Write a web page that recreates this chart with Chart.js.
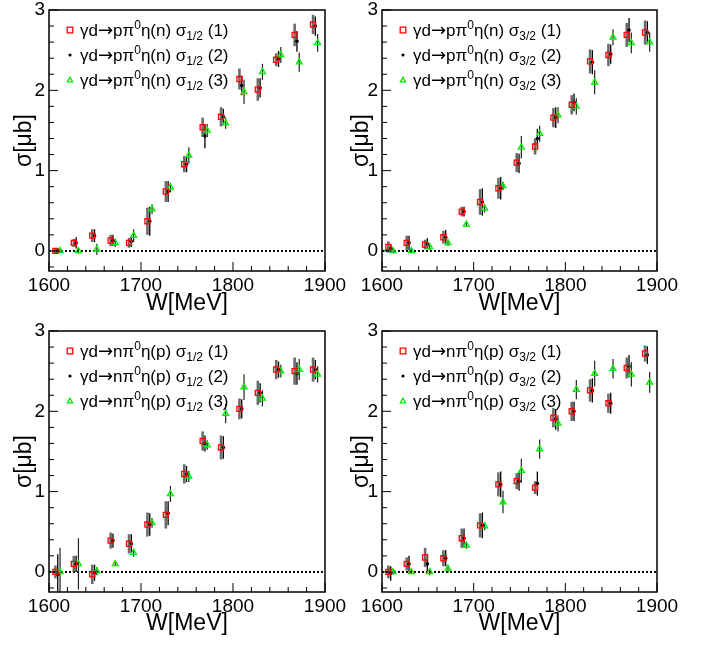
<!DOCTYPE html>
<html>
<head>
<meta charset="utf-8">
<script src="https://cdn.jsdelivr.net/npm/chart.js@4.4.1/dist/chart.umd.min.js"></script>
<style>
body { margin: 0; background: #fff; }
#wrap { position: relative; width: 703px; height: 645px; }
canvas { position: absolute; }
</style>
</head>
<body>
<div id="wrap">
  <canvas id="c1" width="360" height="322" style="left:0px;top:0px"></canvas>
  <canvas id="c2" width="363" height="322" style="left:340px;top:0px"></canvas>
  <canvas id="c3" width="360" height="322" style="left:0px;top:320px"></canvas>
  <canvas id="c4" width="363" height="322" style="left:340px;top:320px"></canvas>
</div>
<script>
const W = [1610, 1630, 1650, 1670, 1690, 1710, 1730, 1750, 1770, 1790, 1810, 1830, 1850, 1870, 1890];
const xTicks = [1600, 1700, 1800, 1900];
const yTicks = [0, 1, 2, 3];

// γd -> p π0 η (n), sigma 1/2
const pHalf1 = [0.00, 0.10, 0.19, 0.13, 0.10, 0.37, 0.74, 1.08, 1.54, 1.67, 2.14, 2.01, 2.38, 2.69, 2.82];
const pHalf1Err = [0.03, 0.05, 0.08, 0.07, 0.06, 0.17, 0.13, 0.10, 0.12, 0.12, 0.13, 0.14, 0.08, 0.14, 0.12];
const pHalf2 = [0.00, 0.10, 0.19, 0.13, 0.12, 0.37, 0.74, 1.08, 1.43, 1.67, 2.06, 2.03, 2.39, 2.61, 2.80];
const pHalf2Err = [0.03, 0.07, 0.08, 0.07, 0.07, 0.18, 0.13, 0.10, 0.15, 0.10, 0.12, 0.12, 0.10, 0.13, 0.12];
const pHalf3 = [0.00, 0.00, 0.02, 0.10, 0.19, 0.52, 0.79, 1.19, 1.50, 1.59, 1.98, 2.23, 2.44, 2.35, 2.59];
const pHalf3Err = [0.02, 0.03, 0.07, 0.05, 0.08, 0.06, 0.06, 0.10, 0.08, 0.07, 0.15, 0.10, 0.10, 0.12, 0.11];

// γd -> p π0 η (n), sigma 3/2
const pThree1 = [0.05, 0.10, 0.08, 0.17, 0.49, 0.61, 0.78, 1.10, 1.30, 1.66, 1.82, 2.36, 2.44, 2.69, 2.72];
const pThree1Err = [0.07, 0.09, 0.06, 0.08, 0.06, 0.16, 0.13, 0.12, 0.10, 0.12, 0.12, 0.15, 0.14, 0.15, 0.15];
const pThree2 = [0.03, 0.10, 0.09, 0.17, 0.49, 0.61, 0.78, 1.09, 1.40, 1.66, 1.85, 2.35, 2.45, 2.75, 2.72];
const pThree2Err = [0.05, 0.09, 0.07, 0.09, 0.06, 0.17, 0.14, 0.12, 0.12, 0.13, 0.11, 0.15, 0.12, 0.15, 0.14];
const pThree3 = [0.00, 0.00, 0.05, 0.10, 0.33, 0.53, 0.81, 1.29, 1.46, 1.69, 1.80, 2.10, 2.66, 2.59, 2.60];
const pThree3Err = [0.03, 0.03, 0.04, 0.04, 0.03, 0.05, 0.05, 0.14, 0.10, 0.10, 0.10, 0.15, 0.10, 0.13, 0.12];

// γd -> n π0 η (p), sigma 1/2
const nHalf1 = [0.00, 0.10, -0.03, 0.39, 0.35, 0.59, 0.71, 1.22, 1.63, 1.55, 2.03, 2.23, 2.52, 2.50, 2.52];
const nHalf1Err = [0.08, 0.10, 0.12, 0.10, 0.12, 0.15, 0.17, 0.12, 0.12, 0.15, 0.13, 0.15, 0.12, 0.17, 0.15];
const nHalf2 = [-0.03, 0.10, -0.01, 0.39, 0.35, 0.59, 0.73, 1.22, 1.60, 1.55, 2.03, 2.23, 2.52, 2.47, 2.52];
const nHalf2Err = [0.25, 0.10, 0.10, 0.09, 0.12, 0.14, 0.15, 0.10, 0.10, 0.14, 0.12, 0.12, 0.10, 0.14, 0.12];
const nHalf3 = [0.00, 0.10, 0.01, 0.10, 0.24, 0.61, 0.97, 1.19, 1.58, 1.97, 2.30, 2.16, 2.50, 2.52, 2.46];
const nHalf3Err = [0.30, 0.32, 0.05, 0.03, 0.05, 0.06, 0.10, 0.07, 0.06, 0.12, 0.16, 0.10, 0.08, 0.13, 0.10];

// γd -> n π0 η (p), sigma 3/2
const nThree1 = [0.00, 0.10, 0.18, 0.17, 0.42, 0.58, 1.09, 1.13, 1.05, 1.92, 2.00, 2.26, 2.10, 2.54, 2.72];
const nThree1Err = [0.08, 0.08, 0.12, 0.10, 0.12, 0.15, 0.15, 0.10, 0.08, 0.12, 0.12, 0.14, 0.12, 0.13, 0.10];
const nThree2 = [-0.02, 0.10, 0.10, 0.17, 0.42, 0.58, 1.09, 1.13, 1.10, 1.90, 2.00, 2.26, 2.10, 2.56, 2.70];
const nThree2Err = [0.09, 0.10, 0.12, 0.10, 0.12, 0.16, 0.16, 0.12, 0.15, 0.13, 0.12, 0.15, 0.13, 0.14, 0.11];
const nThree3 = [0.00, 0.00, 0.00, 0.04, 0.33, 0.57, 0.87, 1.26, 1.53, 1.85, 2.27, 2.47, 2.53, 2.46, 2.36];
const nThree3Err = [0.03, 0.03, 0.04, 0.05, 0.04, 0.05, 0.14, 0.15, 0.12, 0.10, 0.12, 0.16, 0.12, 0.15, 0.13];

const runLabels = ["(1)", "(2)", "(3)"];

const FONT = "'Liberation Sans', Arial, Helvetica, sans-serif";
const ARROW_FONT = "'DejaVu Sans', sans-serif";
Chart.defaults.font.family = FONT;

// marker look for run (1), (2), (3)
const looks = [
  { pointStyle: "rect", pointRadius: 3.6, borderColor: "#ff0000", backgroundColor: "rgba(0,0,0,0)", borderWidth: 1.3,
    errColor: "rgba(70,70,70,0.8)", errWidth: 2.6, shift: -3 },
  { pointStyle: "circle", pointRadius: 1.8, borderColor: "#000", backgroundColor: "#000", borderWidth: 0,
    errColor: "#000", errWidth: 1.3, shift: -0.5 },
  { pointStyle: "triangle", pointRadius: 3.4, borderColor: "#00ee00", backgroundColor: "rgba(0,0,0,0)", borderWidth: 1.3,
    errColor: "#222", errWidth: 1.2, shift: 2 }
];

const panels = [
  { id: "c1", nucleon: "p", spectator: "η(n)", spin: "1/2", area: { l: 49, t: 10, r: 325, b: 271 },
    titlePad: 11, series: [[pHalf1, pHalf1Err], [pHalf2, pHalf2Err], [pHalf3, pHalf3Err]] },
  { id: "c2", nucleon: "p", spectator: "η(n)", spin: "3/2", area: { l: 42, t: 10, r: 317, b: 271 },
    titlePad: 8, series: [[pThree1, pThree1Err], [pThree2, pThree2Err], [pThree3, pThree3Err]] },
  { id: "c3", nucleon: "n", spectator: "η(p)", spin: "1/2", area: { l: 49, t: 11, r: 325, b: 272 },
    titlePad: 11, series: [[nHalf1, nHalf1Err], [nHalf2, nHalf2Err], [nHalf3, nHalf3Err]] },
  { id: "c4", nucleon: "n", spectator: "η(p)", spin: "3/2", area: { l: 42, t: 11, r: 317, b: 272 },
    titlePad: 8, series: [[nThree1, nThree1Err], [nThree2, nThree2Err], [nThree3, nThree3Err]] }
];

function drawMarker(ctx, look, x, y, r) {
  ctx.save();
  ctx.strokeStyle = look.borderColor;
  ctx.fillStyle = look.backgroundColor;
  ctx.lineWidth = look.borderWidth || 1;
  ctx.beginPath();
  if (look.pointStyle === "rect") {
    ctx.rect(x - r, y - r, 2 * r, 2 * r);
    ctx.stroke();
  } else if (look.pointStyle === "circle") {
    ctx.arc(x, y, 1.6, 0, Math.PI * 2);
    ctx.fill();
  } else {
    ctx.moveTo(x, y - r);
    ctx.lineTo(x + r * 0.95, y + r * 0.7);
    ctx.lineTo(x - r * 0.95, y + r * 0.7);
    ctx.closePath();
    ctx.stroke();
  }
  ctx.restore();
}

function drawRich(ctx, parts, x, y) {
  parts.forEach(([text, kind]) => {
    let size = 17, fam = FONT, dy = 0;
    if (kind === "sup") { size = 12; dy = -7; }
    if (kind === "sub") { size = 12; dy = 4; }
    if (kind === "arrow") { size = 18; fam = ARROW_FONT; }
    ctx.font = size + "px " + fam;
    ctx.fillText(text, x, y + dy);
    x += ctx.measureText(text).width;
  });
}

const rootLook = {
  id: "rootLook",
  beforeDatasetsDraw(chart) {
    const { ctx, chartArea: a, scales: { x, y } } = chart;
    // dotted zero line
    const y0 = y.getPixelForValue(0);
    ctx.save();
    ctx.strokeStyle = "#000";
    ctx.lineWidth = 2;
    ctx.setLineDash([2, 2]);
    ctx.beginPath();
    ctx.moveTo(a.left, y0);
    ctx.lineTo(a.right, y0);
    ctx.stroke();
    ctx.restore();
    // error bars, all before the markers
    ctx.save();
    ctx.beginPath();
    ctx.rect(a.left, a.top, a.right - a.left, a.bottom - a.top);
    ctx.clip();
    chart.data.datasets.forEach(ds => {
      ctx.strokeStyle = ds.errColor;
      ctx.lineWidth = ds.errWidth;
      ds.data.forEach((p, i) => {
        const px = x.getPixelForValue(p.x);
        ctx.beginPath();
        ctx.moveTo(px, y.getPixelForValue(p.y - ds.errors[i]));
        ctx.lineTo(px, y.getPixelForValue(p.y + ds.errors[i]));
        ctx.stroke();
      });
    });
    ctx.restore();
  },
  afterDraw(chart) {
    const { ctx, chartArea: a, scales: { x, y } } = chart;
    const panel = chart.options.plugins.rootLook.panel;
    ctx.save();
    ctx.strokeStyle = "#000";
    ctx.lineWidth = 1.5;
    ctx.strokeRect(a.left, a.top, a.right - a.left, a.bottom - a.top);
    ctx.lineWidth = 1;
    ctx.beginPath();
    for (let v = 1600; v <= 1900; v += 20) {
      const px = x.getPixelForValue(v);
      ctx.moveTo(px, a.bottom);
      ctx.lineTo(px, a.bottom - (v % 100 === 0 ? 9 : 5));
    }
    for (let k = -1; k <= 15; k++) {
      const py = y.getPixelForValue(k * 0.2);
      ctx.moveTo(a.left, py);
      ctx.lineTo(a.left + (k % 5 === 0 ? 9 : 5), py);
    }
    ctx.stroke();

    // legend
    ctx.fillStyle = "#000";
    ctx.textBaseline = "alphabetic";
    looks.forEach((look, i) => {
      const ry = a.top + 20 + i * 25;
      drawMarker(ctx, look, a.left + 21, ry, 2.8);
      drawRich(ctx, [
        ["γd", null], ["→", "arrow"], [panel.nucleon + "π", null], ["0", "sup"],
        [panel.spectator + " σ", null], [panel.spin, "sub"],
        [" " + runLabels[i], null]
      ], a.left + 31, ry + 6);
    });
    ctx.restore();
  }
};

panels.forEach(panel => {
  const canvas = document.getElementById(panel.id);
  const A = panel.area;
  const datasets = panel.series.map(([vals, errs], i) => {
    const look = looks[i];
    return {
      label: runLabels[i],
      data: W.map((w, k) => ({ x: w + look.shift, y: vals[k] })),
      errors: errs,
      errColor: look.errColor,
      errWidth: look.errWidth,
      pointStyle: look.pointStyle,
      pointRadius: look.pointRadius,
      pointBorderColor: look.borderColor,
      pointBackgroundColor: look.backgroundColor,
      pointBorderWidth: look.borderWidth,
      showLine: false
    };
  });

  new Chart(canvas, {
    type: "scatter",
    data: { datasets },
    options: {
      responsive: false,
      animation: false,
      events: [],
      layout: { padding: { left: 0, top: A.t, right: canvas.width - A.r, bottom: 0 } },
      plugins: {
        legend: { display: false },
        tooltip: { enabled: false },
        rootLook: { panel }
      },
      scales: {
        x: {
          type: "linear",
          min: 1600,
          max: 1900,
          grid: { display: false, drawTicks: false },
          border: { display: false },
          afterBuildTicks: s => { s.ticks = xTicks.map(v => ({ value: v })); },
          afterFit: s => { s.height = canvas.height - A.b; s.paddingLeft = 0; s.paddingRight = 0; },
          ticks: { color: "#000", font: { size: 19 }, padding: 3, maxRotation: 0, autoSkip: false, callback: v => String(v) },
          title: { display: true, text: "W[MeV]", color: "#000", font: { size: 23 }, padding: { bottom: 5 } }
        },
        y: {
          type: "linear",
          min: -0.25,
          max: 3,
          grid: { display: false, drawTicks: false },
          border: { display: false },
          afterBuildTicks: s => { s.ticks = yTicks.map(v => ({ value: v })); },
          afterFit: s => { s.width = A.l; s.paddingTop = 0; s.paddingBottom = 0; },
          ticks: { color: "#000", font: { size: 19 }, padding: 4, callback: v => String(v) },
          title: { display: true, text: "σ[μb]", color: "#000", font: { size: 23 }, padding: { top: panel.titlePad } }
        }
      }
    },
    plugins: [rootLook]
  });
});
</script>
</body>
</html>
